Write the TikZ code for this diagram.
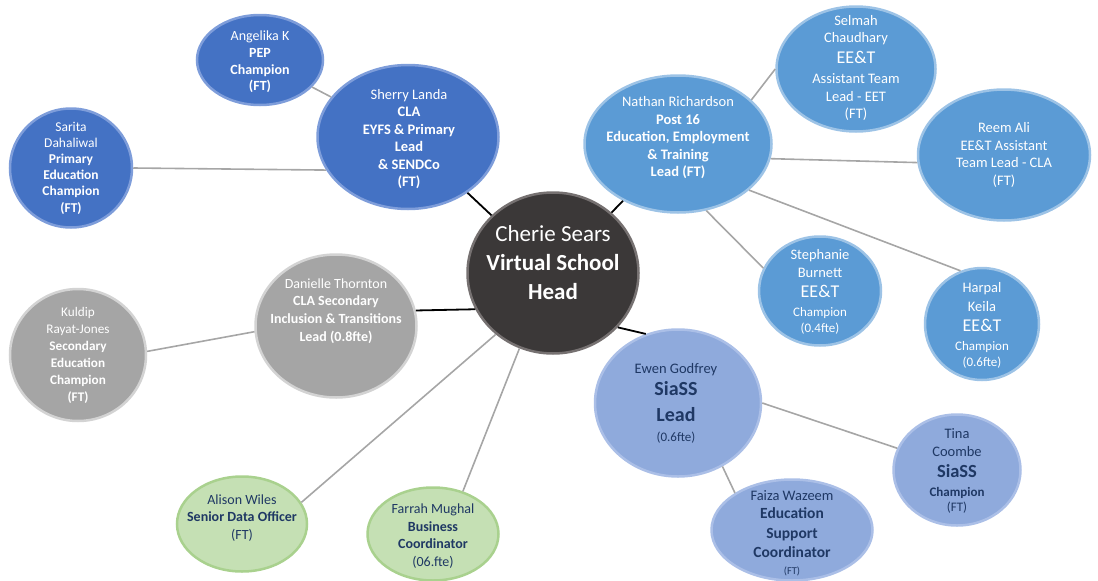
\documentclass[tikz,border=0pt]{standalone}
\usepackage{fontspec}
\setmainfont{Carlito}
\usetikzlibrary{shapes.geometric}

\definecolor{headFill}{HTML}{3B3838}
\definecolor{headRim}{HTML}{767171}
\definecolor{navyFill}{HTML}{4472C4}
\definecolor{navyRim}{HTML}{7E9DDA}
\definecolor{skyFill}{HTML}{5B9BD5}
\definecolor{skyRim}{HTML}{9DC3E6}
\definecolor{lilacFill}{HTML}{8FAADC}
\definecolor{lilacRim}{HTML}{ABBFE7}
\definecolor{greyFill}{HTML}{A5A5A5}
\definecolor{greyRim}{HTML}{D3D3D3}
\definecolor{mintFill}{HTML}{C5E0B4}
\definecolor{mintRim}{HTML}{A9D18E}
\definecolor{inkNavy}{HTML}{1F3864}
\definecolor{linkGrey}{HTML}{A6A6A6}

\newcommand{\tagLarge}[1]{{\fontsize{18}{20}\selectfont #1}}
\newcommand{\tagSmall}[1]{{\fontsize{13}{15}\selectfont #1}}

\tikzset{
  blob/.style={ellipse, line width=2.5pt, inner sep=0pt},
  headBlob/.style={blob, fill=headFill, draw=headRim},
  navyBlob/.style={blob, fill=navyFill, draw=navyRim},
  skyBlob/.style={blob, fill=skyFill, draw=skyRim},
  lilacBlob/.style={blob, fill=lilacFill, draw=lilacRim},
  greyBlob/.style={blob, fill=greyFill, draw=greyRim},
  mintBlob/.style={blob, fill=mintFill, draw=mintRim},
  words/.style={align=center, inner sep=0pt, text=white,
    font=\fontsize{14.5}{17.5}\selectfont},
  darkWords/.style={words, text=inkNavy},
  tie/.style={draw=linkGrey, line width=1.6pt},
  boss/.style={draw=black, line width=1.8pt}
}

\begin{document}
\begin{tikzpicture}[x=1pt, y=-1pt]
  \useasboundingbox (0,0) rectangle (1098,581);

  % the head
  \node[headBlob, minimum width=171pt, minimum height=161pt] (head) at (553,273) {};
  \node[words, font=\fontsize{23}{29}\selectfont] (headText) at (553,263)
    {Cherie Sears\\\textbf{Virtual School}\\\textbf{Head}};

  % CLA primary team
  \node[navyBlob, minimum width=126pt, minimum height=90pt] (angelika) at (260,60) {};
  \node[words, font=\fontsize{14}{16.7}\selectfont] (angelikaText) at (260,62)
    {Angelika K\\\textbf{PEP}\\\textbf{Champion}\\\textbf{(FT)}};
  \node[navyBlob, minimum width=181pt, minimum height=144pt] (sherry) at (408,137) {};
  \node[words] (sherryText) at (409,139)
    {Sherry Landa\\\textbf{CLA}\\\textbf{EYFS \& Primary}\\\textbf{Lead}\\\textbf{\& SENDCo}\\\textbf{(FT)}};
  \node[navyBlob, minimum width=122pt, minimum height=119pt] (sarita) at (71,168) {};
  \node[words, font=\fontsize{13.5}{16.2}\selectfont] (saritaText) at (71,168)
    {Sarita\\Dahaliwal\\\textbf{Primary}\\\textbf{Education}\\\textbf{Champion}\\\textbf{(FT)}};

  % post 16 team
  \node[skyBlob, minimum width=187pt, minimum height=137pt] (nathan) at (678,144) {};
  \node[words] (nathanText) at (678,138)
    {Nathan Richardson\\\textbf{Post 16}\\\textbf{Education, Employment}\\\textbf{\& Training}\\\textbf{Lead (FT)}};
  \node[skyBlob, minimum width=159pt, minimum height=125pt] (selmah) at (856,69) {};
  \node[words] (selmahText) at (856,68)
    {Selmah\\Chaudhary\\[3.5pt]\tagLarge{EE\&T}\\[2.5pt]Assistant Team\\Lead - EET\\(FT)};
  \node[skyBlob, minimum width=172pt, minimum height=131pt] (reem) at (1004,155) {};
  \node[words] (reemText) at (1004,155)
    {Reem Ali\\EE\&T Assistant\\Team Lead - CLA\\(FT)};
  \node[skyBlob, minimum width=122pt, minimum height=109pt] (stephanie) at (820,291) {};
  \node[words] (stephanieText) at (820,292)
    {Stephanie\\[0.5pt]Burnett\\[2.5pt]\tagLarge{EE\&T}\\[1.5pt]\tagSmall{Champion}\\[-1.5pt]\tagSmall{(0.4fte)}};
  \node[skyBlob, minimum width=114pt, minimum height=112pt] (harpal) at (982,324) {};
  \node[words] (harpalText) at (982,325)
    {Harpal\\[1.5pt]Keila\\[2.5pt]\tagLarge{EE\&T}\\[1.5pt]\tagSmall{Champion}\\[-1.5pt]\tagSmall{(0.6fte)}};

  % SiaSS team
  \node[lilacBlob, minimum width=166pt, minimum height=147pt] (ewen) at (678,403) {};
  \node[darkWords] (ewenText) at (676,403)
    {Ewen Godfrey\\[4.5pt]{\fontsize{20}{24}\selectfont\textbf{SiaSS}}\\[8.5pt]{\fontsize{20}{24}\selectfont\textbf{Lead}}\\[2.5pt]\tagSmall{(0.6fte)}};
  \node[lilacBlob, minimum width=127pt, minimum height=111pt] (tina) at (957,470) {};
  \node[darkWords] (tinaText) at (957,471)
    {Tina\\[0.5pt]Coombe\\[3.5pt]{\fontsize{18.5}{21}\selectfont\textbf{SiaSS}}\\[1.5pt]\tagSmall{\textbf{Champion}}\\[-2.5pt]\tagSmall{(FT)}};
  \node[lilacBlob, minimum width=161pt, minimum height=101pt] (faiza) at (792,530) {};
  \node[darkWords] (faizaText) at (792,533)
    {Faiza Wazeem\\[0.5pt]{\fontsize{15.5}{19}\selectfont\textbf{Education}}\\[2.5pt]{\fontsize{15.5}{19}\selectfont\textbf{Support}}\\[1.5pt]{\fontsize{15.5}{19}\selectfont\textbf{Coordinator}}\\[-0.5pt]{\fontsize{10.5}{12}\selectfont (FT)}};

  % secondary team
  \node[greyBlob, minimum width=161pt, minimum height=143pt] (danielle) at (336,326) {};
  \node[words, font=\fontsize{14}{17.7}\selectfont] (danielleText) at (336,311)
    {Danielle Thornton\\\textbf{CLA Secondary}\\\textbf{Inclusion \& Transitions}\\\textbf{Lead (0.8fte)}};
  \node[greyBlob, minimum width=136pt, minimum height=132pt] (kuldip) at (78,355) {};
  \node[words, font=\fontsize{13.2}{17}\selectfont] (kuldipText) at (78,355)
    {Kuldip\\Rayat-Jones\\\textbf{Secondary}\\\textbf{Education}\\\textbf{Champion}\\\textbf{(FT)}};

  % business support
  \node[mintBlob, minimum width=130pt, minimum height=95pt] (alison) at (242,524) {};
  \node[darkWords, font=\fontsize{14}{17.6}\selectfont] (alisonText) at (242,518)
    {Alison Wiles\\\textbf{Senior Data Officer}\\(FT)};
  \node[mintBlob, minimum width=131pt, minimum height=93pt] (farrah) at (433,534) {};
  \node[darkWords, font=\fontsize{14}{17.6}\selectfont] (farrahText) at (433,536)
    {Farrah Mughal\\\textbf{Business}\\\textbf{Coordinator}\\(06.fte)};

  % links from the head
  \draw[boss] (head) -- (sherry);
  \draw[boss] (head) -- (nathan);
  \draw[boss] (head.205) -- (danielle.11);
  \draw[boss] (head.-40) -- (ewen.115);
  \draw[tie] (head.227) -- (alison.20);
  \draw[tie] (head.246) -- (farrah.55);

  % links inside the teams
  \draw[tie] (angelika) -- (sherry);
  \draw[tie] (sarita.east) -- (sherry.202);
  \draw[tie] (nathan.31) -- (selmah.west);
  \draw[tie] (nathan.-9) -- (reem.185);
  \draw[tie] (nathan.-67) -- (stephanie.158);
  \draw[tie] (nathan.-33) -- (harpal.112);
  \draw[tie] (ewen.east) -- (tina.160);
  \draw[tie] (ewen.-55) -- (faiza.147);
  \draw[tie] (kuldip.3) -- (danielle.184);
\end{tikzpicture}
\end{document}
